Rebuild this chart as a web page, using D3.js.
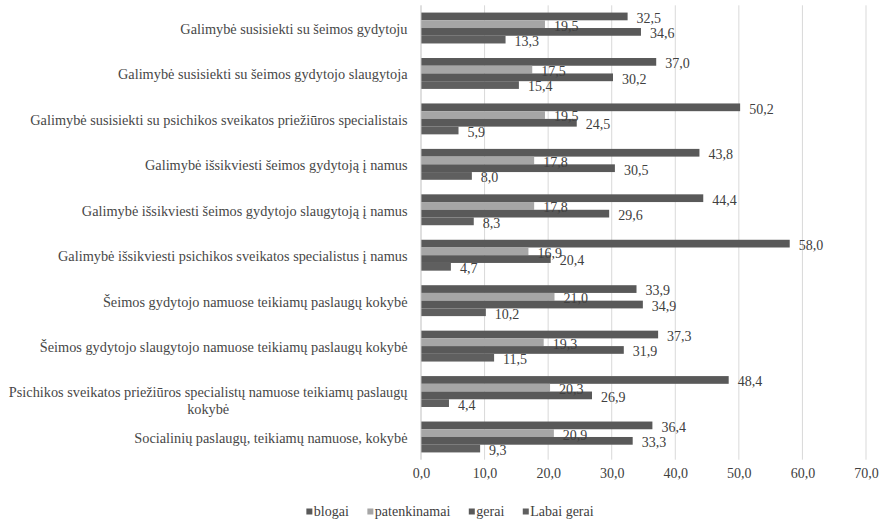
<!DOCTYPE html>
<html><head><meta charset="utf-8">
<script src="https://cdn.jsdelivr.net/npm/d3@7"></script>
<style>
html,body{margin:0;padding:0;background:#fff;}
svg{display:block;}
</style></head>
<body>
<svg id="chart" width="885" height="522"></svg>
<script>
const categories = [
  "Galimybė susisiekti su šeimos gydytoju",
  "Galimybė susisiekti su šeimos gydytojo slaugytoja",
  "Galimybė susisiekti su psichikos sveikatos priežiūros specialistais",
  "Galimybė išsikviesti šeimos gydytoją į namus",
  "Galimybė išsikviesti šeimos gydytojo slaugytoją į namus",
  "Galimybė išsikviesti psichikos sveikatos specialistus į namus",
  "Šeimos gydytojo namuose teikiamų paslaugų kokybė",
  "Šeimos gydytojo slaugytojo namuose teikiamų paslaugų kokybė",
  "Psichikos sveikatos priežiūros specialistų namuose teikiamų paslaugų|kokybė",
  "Socialinių paslaugų, teikiamų namuose, kokybė"
];
const seriesNames = ["blogai", "patenkinamai", "gerai", "Labai gerai"];
const blogai       = [32.5, 37.0, 50.2, 43.8, 44.4, 58.0, 33.9, 37.3, 48.4, 36.4];
const patenkinamai = [19.5, 17.5, 19.5, 17.8, 17.8, 16.9, 21.0, 19.3, 20.3, 20.9];
const gerai        = [34.6, 30.2, 24.5, 30.5, 29.6, 20.4, 34.9, 31.9, 26.9, 33.3];
const labaiGerai   = [13.3, 15.4, 5.9, 8.0, 8.3, 4.7, 10.2, 11.5, 4.4, 9.3];
const xTicks = [0, 10, 20, 30, 40, 50, 60, 70];
const seriesColors = ["#595959", "#a6a6a6", "#595959", "#5f5f5f"];

const seriesValues = [blogai, patenkinamai, gerai, labaiGerai];
const FONT = "Tinos, serif";

const svg = d3.select("#chart");
const pLeft = 421, pRight = 866, pTop = 5.3, pBottom = 459.7;

const x = d3.scaleLinear().domain([0, 70]).range([pLeft, pRight]);
const y = d3.scaleBand().domain(categories).range([pTop, pBottom]).paddingInner(0.32).paddingOuter(0.16);
const ys = d3.scaleBand().domain(seriesNames).range([0, y.bandwidth()]);
const fmt = v => d3.format(".1f")(v).replace(".", ",");

// gridlines
svg.append("g").selectAll("line").data(xTicks.slice(1)).join("line")
  .attr("x1", d => x(d)).attr("x2", d => x(d))
  .attr("y1", pTop).attr("y2", pBottom)
  .attr("stroke", "#d9d9d9").attr("stroke-width", 1);

// bars
const groups = svg.append("g").selectAll("g").data(categories).join("g")
  .attr("transform", d => `translate(0,${y(d)})`);

groups.each(function(cat, ci) {
  const g = d3.select(this);
  const rows = seriesNames.map((s, si) => ({s, si, v: seriesValues[si][ci]}));
  g.selectAll("rect").data(rows).join("rect")
    .attr("x", x(0))
    .attr("y", d => ys(d.s))
    .attr("width", d => x(d.v) - x(0))
    .attr("height", ys.bandwidth())
    .attr("fill", d => seriesColors[d.si]);
  g.selectAll("text.val").data(rows).join("text")
    .attr("class", "val")
    .attr("x", d => x(d.v) + 9)
    .attr("y", d => ys(d.s) + ys.bandwidth() / 2 + 1.5)
    .attr("dy", "0.35em")
    .style("font-family", FONT)
    .style("font-size", "14px")
    .attr("fill", "#404040")
    .text(d => fmt(d.v));
});

// vertical axis line
svg.append("line").attr("x1", x(0)).attr("x2", x(0)).attr("y1", pTop).attr("y2", pBottom)
  .attr("stroke", "#bfbfbf").attr("stroke-width", 1);

// category labels (wrapped label split into separate lines)
const labelLines = [];
categories.forEach(c => {
  const parts = c.split("|");
  parts.forEach((p, li) => labelLines.push({cat: c, text: p, li, n: parts.length}));
});
const catG = svg.append("g");
const catText = catG.selectAll("text").data(labelLines).join("text")
  .style("font-family", FONT).style("font-size", "14.3px").attr("fill", "#474747")
  .attr("dy", "0.35em")
  .text(d => d.text);
catText.each(function(d) {
  const t = d3.select(this);
  const cy = y(d.cat) + y.bandwidth() / 2 + 1;
  if (d.n === 1) {
    t.attr("x", 407.5).attr("y", cy).attr("text-anchor", "end");
  } else {
    const firstW = catText.filter(e => e.cat === d.cat && e.li === 0).node().getComputedTextLength();
    t.attr("text-anchor", "middle").attr("x", 407.5 - firstW / 2)
      .attr("y", cy - 1 + d.li * 17.5);
  }
});

// x axis tick labels
const xAxis = d3.axisBottom(x).tickValues(xTicks).tickSize(0).tickPadding(0).tickFormat(fmt);
const xg = svg.append("g").attr("transform", `translate(0,${pBottom + 8})`).call(xAxis);
xg.attr("font-family", FONT);
xg.select(".domain").remove();
xg.selectAll("text").style("font-family", FONT).style("font-size", "14px").attr("fill", "#404040");

// legend
const legend = svg.append("g").attr("transform", "translate(0,511.5)");
const items = legend.selectAll("g").data(seriesNames).join("g");
items.append("rect").attr("width", 6).attr("height", 6).attr("y", -3)
  .attr("fill", (d, i) => seriesColors[i]);
items.append("text").attr("x", 7.5).attr("dy", "0.35em")
  .style("font-family", FONT).style("font-size", "14px")
  .attr("fill", "#404040").text(d => d);
let widths = [];
items.each(function() { widths.push(7.5 + d3.select(this).select("text").node().getComputedTextLength()); });
const gap = 18.5;
const total = d3.sum(widths) + gap * (widths.length - 1);
let cx = 450 - total / 2;
items.attr("transform", (d, i) => { const p = cx; cx += widths[i] + gap; return `translate(${p},0)`; });
</script>
</body></html>
